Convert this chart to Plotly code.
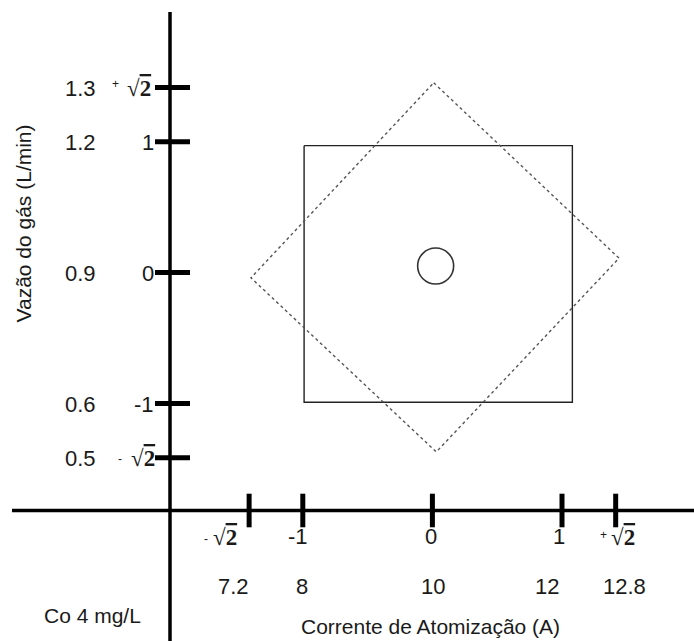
import math
import plotly.graph_objects as go

# ---------------- data ----------------
R2 = math.sqrt(2)
coded_levels = [-R2, -1, 0, 1, R2]
coded_names = ["-r2", "-1", "0", "1", "+r2"]
current_values = [7.2, 8, 10, 12, 12.8]      # Corrente de Atomização (A)
flow_values = [0.5, 0.6, 0.9, 1.2, 1.3]      # Vazão do gás (L/min)

# design points as drawn (coded units)
square_x = [-0.99, 1.08, 1.08, -0.99, -0.99]
square_y = [0.97, 0.97, -0.99, -0.99, 0.97]
diamond_x = [0.01, 1.44, 0.03, -1.40, 0.01]
diamond_y = [1.45, 0.11, -1.37, -0.04, 1.45]
center_x = [0.025]
center_y = [0.05]

# ---------------- layout constants ----------------
W, H = 694, 641
X0, SX = 432.4, 129.6     # pixel of coded 0, px per unit (x)
Y0, SY = 272.6, 130.9     # pixel of coded 0, px per unit (y)

def ux(px):
    return (px - X0) / SX

def vy(py):
    return (Y0 - py) / SY

AX_X = ux(170)     # vertical axis position
AX_Y = vy(510.5)   # horizontal axis position

FONT = "Arial, Liberation Sans, sans-serif"
SERIF = "Liberation Serif, Times New Roman, serif"
TXT = "#1a1a1a"
RADICAL = "√<span style='text-decoration:overline'><b>2</b></span>"

fig = go.Figure()

# axes lines
fig.add_shape(type="line", x0=AX_X, x1=AX_X, y0=vy(12), y1=vy(H + 5),
              line=dict(color="black", width=3.5), layer="above")
fig.add_shape(type="line", x0=ux(12), x1=ux(W + 5), y0=AX_Y, y1=AX_Y,
              line=dict(color="black", width=3.5), layer="above")

# square (factorial points)
fig.add_trace(go.Scatter(x=square_x, y=square_y, mode="lines",
                         line=dict(color="#222222", width=1.4),
                         hoverinfo="skip", showlegend=False))
# diamond (axial points)
fig.add_trace(go.Scatter(x=diamond_x, y=diamond_y, mode="lines",
                         line=dict(color="#555555", width=1.4, dash="dot"),
                         hoverinfo="skip", showlegend=False))
# center point
fig.add_trace(go.Scatter(x=center_x, y=center_y, mode="markers",
                         marker=dict(symbol="circle-open", size=36,
                                     line=dict(color="#333333", width=1.6),
                                     color="#333333"),
                         hoverinfo="skip", showlegend=False))

# ticks
fig.add_trace(go.Scatter(x=coded_levels, y=[AX_Y] * len(coded_levels), mode="markers",
                         marker=dict(symbol="line-ns", size=24,
                                     line=dict(color="black", width=5)),
                         hoverinfo="skip", showlegend=False))
fig.add_trace(go.Scatter(x=[AX_X + 2.5 / SX] * len(coded_levels), y=coded_levels,
                         mode="markers",
                         marker=dict(symbol="line-ew", size=25,
                                     line=dict(color="black", width=5)),
                         hoverinfo="skip", showlegend=False))

# x tick labels
x_code_shift = [-24, -5, -1, -3, 7]
x_sign_shift = [-43, 0, 0, 0, -12]
x_real_shift = [-16, -1, 1, -15, 9]
for lv, nm, val, s1, s0, s2 in zip(coded_levels, coded_names, current_values,
                                   x_code_shift, x_sign_shift, x_real_shift):
    if nm in ("+r2", "-r2"):
        fig.add_annotation(x=lv, y=AX_Y, xref="x", yref="y", text=RADICAL,
                           showarrow=False, xanchor="center", yanchor="middle",
                           xshift=s1, yshift=-27,
                           font=dict(family=SERIF, size=23, color=TXT))
        fig.add_annotation(x=lv, y=AX_Y, xref="x", yref="y", text=nm[0],
                           showarrow=False, xanchor="center", yanchor="middle",
                           xshift=s0, yshift=-24 if nm[0] == "+" else -28,
                           font=dict(family=FONT, size=12, color=TXT))
    else:
        fig.add_annotation(x=lv, y=AX_Y, xref="x", yref="y", text=nm,
                           showarrow=False, xanchor="center", yanchor="middle",
                           xshift=s1, yshift=-26,
                           font=dict(family=FONT, size=22, color=TXT))
    fig.add_annotation(x=lv, y=AX_Y, xref="x", yref="y", text=str(val),
                       showarrow=False, xanchor="center", yanchor="middle",
                       xshift=s2, yshift=-76,
                       font=dict(family=FONT, size=22, color=TXT))

# y tick labels
y_code_shift = [-13, -14, -14, -14, -17]
y_sign_shift = [-50, 0, 0, 0, -55]
for lv, nm, val, s1, s0 in zip(coded_levels, coded_names, flow_values,
                               y_code_shift, y_sign_shift):
    if nm in ("+r2", "-r2"):
        fig.add_annotation(x=AX_X, y=lv, xref="x", yref="y", text=RADICAL,
                           showarrow=False, xanchor="right", yanchor="middle",
                           xshift=s1, yshift=-1,
                           font=dict(family=SERIF, size=23, color=TXT))
        fig.add_annotation(x=AX_X, y=lv, xref="x", yref="y", text=nm[0],
                           showarrow=False, xanchor="center", yanchor="middle",
                           xshift=s0, yshift=3 if nm[0] == "+" else -1,
                           font=dict(family=FONT, size=12, color=TXT))
    else:
        fig.add_annotation(x=AX_X, y=lv, xref="x", yref="y", text=nm,
                           showarrow=False, xanchor="right", yanchor="middle",
                           xshift=s1, yshift=-1,
                           font=dict(family=FONT, size=22, color=TXT))
    fig.add_annotation(x=AX_X, y=lv, xref="x", yref="y", text=str(val),
                       showarrow=False, xanchor="right", yanchor="middle",
                       xshift=-72, yshift=-1,
                       font=dict(family=FONT, size=22, color=TXT))

# titles
fig.add_annotation(x=430 / W, y=1 - 626 / H, xref="paper", yref="paper",
                   text="Corrente de Atomização (A)", showarrow=False,
                   xanchor="center", yanchor="middle",
                   font=dict(family=FONT, size=21, color=TXT))
fig.add_annotation(x=23 / W, y=1 - 223.5 / H, xref="paper", yref="paper",
                   text="Vazão do gás (L/min)", showarrow=False, textangle=-90,
                   xanchor="center", yanchor="middle",
                   font=dict(family=FONT, size=21, color=TXT))
fig.add_annotation(x=92 / W, y=1 - 615 / H, xref="paper", yref="paper",
                   text="Co 4 mg/L", showarrow=False,
                   xanchor="center", yanchor="middle",
                   font=dict(family=FONT, size=21, color=TXT))

fig.update_layout(
    width=W, height=H, autosize=False,
    margin=dict(l=0, r=0, t=0, b=0),
    paper_bgcolor="white", plot_bgcolor="white",
    xaxis=dict(range=[ux(0), ux(W)], visible=False, fixedrange=True),
    yaxis=dict(range=[vy(H), vy(0)], visible=False, fixedrange=True),
    showlegend=False,
)

fig.write_html("out.html")
